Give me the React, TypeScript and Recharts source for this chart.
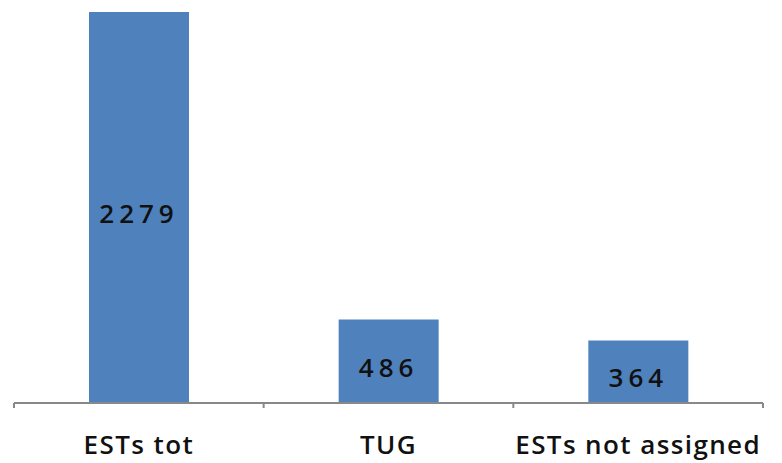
import React from 'react';
import { BarChart, Bar, XAxis, YAxis, LabelList } from 'recharts';

const categories = ['ESTs tot', 'TUG', 'ESTs not assigned'];
const counts = [2279, 486, 364];
const edgeTicks = [0, 1, 2, 3];

const data = categories.map((name, i) => ({ name, count: counts[i] }));

const font = '"Open Sans", Lato, sans-serif';

export default function App() {
  return (
    <div style={{ position: 'absolute', top: 0, left: 0, width: 782, height: 463, background: '#fff' }}>
      <BarChart width={782} height={463} data={data} margin={{ top: 12, right: 19, left: 14, bottom: 0 }}>
        {/* boundary tick marks between categories, plus the baseline */}
        <XAxis
          xAxisId="a_edge"
          type="number"
          dataKey={() => 0}
          domain={[0, 3]}
          ticks={edgeTicks}
          height={1}
          axisLine={{ stroke: '#888888', strokeWidth: 2 }}
          tick={() => <g />}
          tickLine={{ stroke: '#888888', strokeWidth: 2 }}
          tickSize={5}
        />
        <XAxis
          xAxisId="b_cat"
          dataKey="name"
          height={59}
          axisLine={false}
          tickLine={false}
          tickMargin={26}
          tick={{ fill: '#111', fontSize: 26, fontFamily: font, fontWeight: 600, letterSpacing: 1.4 }}
        />
        <YAxis hide domain={[0, 2279]} />
        <Bar xAxisId="b_cat" dataKey="count" fill="#4f81bd" barSize={100} isAnimationActive={false}>
          <LabelList
            dataKey="count"
            position="center"
            dy={6}
            style={{ fill: '#111', fontSize: 26, fontFamily: font, fontWeight: 600, letterSpacing: 5 }}
          />
        </Bar>
      </BarChart>
    </div>
  );
}
